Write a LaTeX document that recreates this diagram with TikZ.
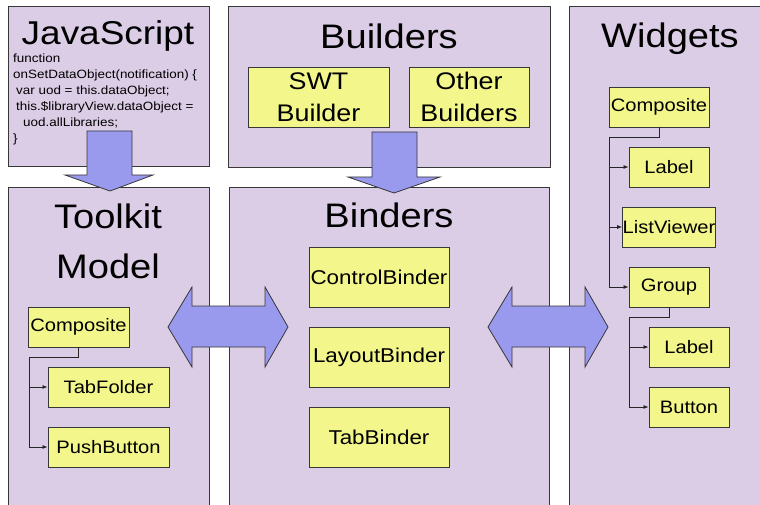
\documentclass[tikz,border=0pt]{standalone}
\usepackage{fontspec}
\setmainfont[FakeStretch=1.12]{Liberation Sans}
\usetikzlibrary{arrows.meta}
\definecolor{panelfill}{RGB}{220,205,230}
\definecolor{boxfill}{RGB}{243,246,138}
\definecolor{arrowfill}{RGB}{153,153,238}
\definecolor{edge}{RGB}{55,55,55}
\tikzset{
  panel/.style={draw=edge, line width=0.9pt, fill=panelfill, inner sep=0pt},
  ybox/.style={draw=edge, line width=0.9pt, fill=boxfill, inner sep=0pt, align=center},
  title/.style={font=\fontsize{34}{40}\selectfont, anchor=base, inner sep=0pt},
  bigarrow/.style={draw=edge, line width=0.8pt, fill=arrowfill, line join=miter},
  tree/.style={draw=black!85, line width=0.8pt},
  treearr/.style={tree, -{Latex[length=5pt,width=4pt]}}
}
\begin{document}
\begin{tikzpicture}[x=1pt, y=-1pt]
\clip (0,0) rectangle (760,505);
\fill[white] (0,0) rectangle (760,505);
% panels
\draw[panel] (8,6) rectangle (209,166);
\draw[panel] (228,6) rectangle (550,167);
\draw[panel] (569,6) rectangle (780,520);
\draw[panel] (8,187) rectangle (209,520);
\draw[panel] (229,187) rectangle (549,520);
% titles
\node[title, font=\fontsize{33}{40}\selectfont] (tjs) at (108,45) {JavaScript};
\node[title] (tbuild) at (389,49) {Builders};
\node[title] (twid) at (670,48) {Widgets};
\node[title] (ttool) at (108,228) {Toolkit};
\node[title] (tmodel) at (108,278) {Model};
\node[title] (tbind) at (389,227) {Binders};
% code
\node[anchor=north west, inner sep=0pt, align=left, font=\fontsize{12}{16}\selectfont] (code) at (13,54)
 {function\\onSetDataObject(notification) \{\\\hspace*{3pt}var uod = this.dataObject;\\\hspace*{3pt}this.\$libraryView.dataObject =\\\hspace*{10pt}uod.allLibraries;\\\}};
% builder boxes
\node[ybox, minimum width=141pt, minimum height=60pt, font=\fontsize{24}{32}\selectfont] (swt) at (318.5,97) {SWT\\Builder};
\node[ybox, minimum width=120pt, minimum height=60pt, font=\fontsize{24}{32}\selectfont] (other) at (469,97) {Other\\Builders};
% binders
\tikzset{bbox/.style={ybox, minimum width=140pt, minimum height=60pt, font=\fontsize{20}{24}\selectfont}}
\node[bbox] (cb) at (379,277) {ControlBinder};
\node[bbox] (lb) at (379,357) {LayoutBinder};
\node[bbox] (tbb) at (379,437) {TabBinder};
% widgets tree
\tikzset{wbox/.style={ybox, minimum width=80pt, minimum height=40pt, font=\fontsize{18}{22}\selectfont}}
\node[wbox, minimum width=100pt] (wcomp) at (659,107) {Composite};
\node[wbox] (wlabel) at (669,167) {Label};
\node[wbox] (wlist) at (669,227) {ListViewer};
\node[wbox] (wgroup) at (669,287) {Group};
\node[wbox] (wlabel2) at (689,347) {Label};
\node[wbox] (wbutton) at (689,407) {Button};
\coordinate (wj1) at (609,137);
\coordinate (wj2) at (629,317);
\draw[tree] (wcomp.south) |- (wj1);
\draw[treearr] (wj1) |- (wlabel.west);
\draw[treearr] (wj1) |- (wlist.west);
\draw[treearr] (wj1) |- (wgroup.west);
\draw[tree] (wgroup.south) |- (wj2);
\draw[treearr] (wj2) |- (wlabel2.west);
\draw[treearr] (wj2) |- (wbutton.west);
% toolkit tree
\node[wbox, minimum width=101pt] (tcomp) at (78.5,327) {Composite};
\node[wbox, minimum width=121pt] (tab) at (108.5,387) {TabFolder};
\node[wbox, minimum width=121pt] (push) at (108.5,447) {PushButton};
\coordinate (tj1) at (29,357);
\draw[tree] (tcomp.south) |- (tj1);
\draw[treearr] (tj1) |- (tab.west);
\draw[treearr] (tj1) |- (push.west);
% block arrows
\draw[bigarrow] (87,131) -- (132,131) -- (132,175) -- (153,175) -- (110,191) -- (65,175) -- (87,175) -- cycle;
\draw[bigarrow] (372,132) -- (417,132) -- (417,177) -- (440,177) -- (394,193) -- (348,177) -- (372,177) -- cycle;
\draw[bigarrow] (168,327) -- (192,287) -- (192,306) -- (265,306) -- (265,287) -- (288,327) -- (265,367) -- (265,347) -- (192,347) -- (192,367) -- cycle;
\draw[bigarrow] (488,327) -- (512,287) -- (512,306) -- (585,306) -- (585,287) -- (608,327) -- (585,367) -- (585,347) -- (512,347) -- (512,367) -- cycle;
\end{tikzpicture}
\end{document}
